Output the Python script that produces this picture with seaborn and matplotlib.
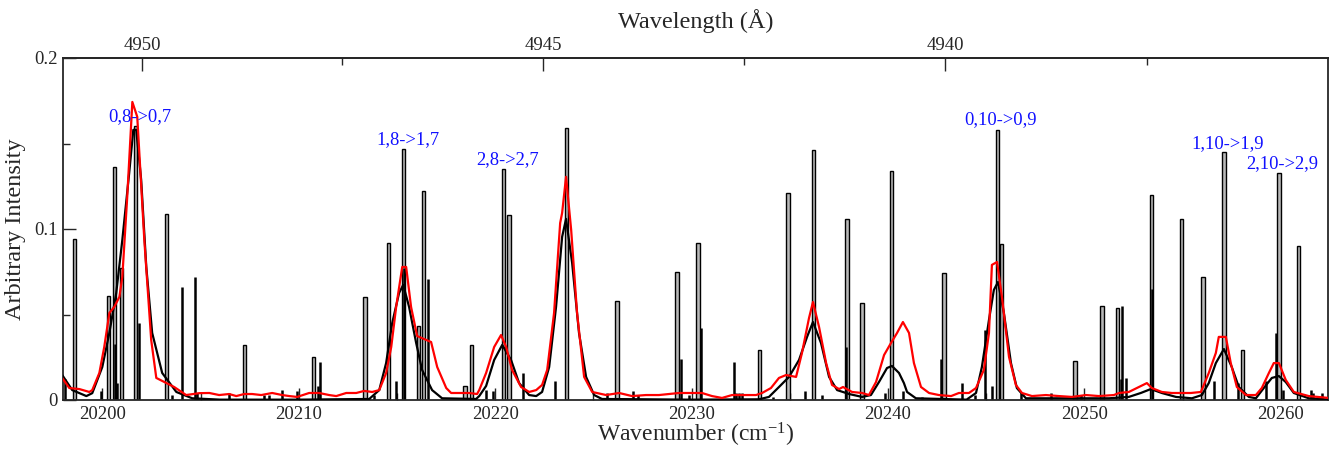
import numpy as np
import pandas as pd
import matplotlib
matplotlib.use("Agg")
import matplotlib.pyplot as plt
import seaborn as sns
from matplotlib.ticker import FixedLocator, FixedFormatter, MultipleLocator

# ---------------- data ----------------
# stick lines drawn as doublets (outlined bars)
doublet_nu = [20198.60, 20200.31, 20200.61, 20200.97, 20201.68, 20203.28, 20207.25,
              20210.74, 20213.38, 20214.58, 20215.34, 20216.11, 20216.36, 20218.47,
              20218.80, 20220.43, 20220.71, 20223.64, 20226.21, 20229.26, 20230.33,
              20233.46, 20234.91, 20236.21, 20237.91, 20238.68, 20240.18, 20242.85,
              20245.57, 20245.78, 20249.52, 20250.89, 20251.70, 20253.43, 20254.93,
              20256.03, 20257.10, 20258.06, 20259.90, 20260.89]
doublet_int = [0.094, 0.061, 0.136, 0.077, 0.160, 0.109, 0.032,
               0.025, 0.060, 0.092, 0.147, 0.043, 0.122, 0.008,
               0.032, 0.135, 0.108, 0.159, 0.058, 0.075, 0.092,
               0.029, 0.121, 0.146, 0.106, 0.057, 0.134, 0.074,
               0.158, 0.091, 0.023, 0.055, 0.054, 0.120, 0.106,
               0.072, 0.145, 0.029, 0.133, 0.090]

# single stick lines
single_nu = [20198.08, 20199.95, 20200.65, 20200.76, 20201.88, 20203.56, 20204.07,
             20204.73, 20204.83, 20206.46, 20208.24, 20208.50, 20209.16, 20209.92,
             20211.00, 20211.09, 20213.84, 20214.96, 20215.38, 20216.56, 20219.54,
             20219.90, 20221.42, 20223.05, 20225.70, 20227.02, 20227.28, 20229.44,
             20229.87, 20230.48, 20232.16, 20232.26, 20232.42, 20232.57, 20234.15,
             20235.77, 20236.64, 20237.86, 20239.85, 20240.78, 20241.73, 20242.70,
             20243.77, 20244.43, 20244.94, 20245.29, 20246.77, 20248.29, 20249.82,
             20251.86, 20251.91, 20252.12, 20253.46, 20256.59, 20257.81, 20259.24,
             20259.75, 20260.10, 20261.53, 20261.63, 20262.09]
single_int = [0.012, 0.005, 0.033, 0.010, 0.045, 0.003, 0.066,
              0.072, 0.004, 0.004, 0.003, 0.003, 0.006, 0.005,
              0.008, 0.022, 0.003, 0.011, 0.077, 0.071, 0.006,
              0.005, 0.016, 0.011, 0.004, 0.005, 0.003, 0.024,
              0.003, 0.042, 0.022, 0.004, 0.004, 0.004, 0.002,
              0.005, 0.003, 0.031, 0.004, 0.005, 0.002, 0.024,
              0.010, 0.003, 0.041, 0.008, 0.004, 0.004, 0.003,
              0.012, 0.055, 0.013, 0.065, 0.011, 0.010, 0.011,
              0.039, 0.006, 0.006, 0.004, 0.004]

# simulated (black) spectrum
sim_nu = [20197.96, 20198.47, 20199.19, 20199.49, 20200.00, 20200.36, 20200.71, 20201.02,
          20201.37, 20201.58, 20201.73, 20201.98, 20202.24, 20202.54, 20203.05, 20203.77,
          20204.58, 20206.00, 20210.00, 20213.59, 20214.10, 20214.45, 20214.76, 20215.11,
          20215.32, 20215.62, 20215.98, 20216.28, 20216.79, 20217.30, 20219.03, 20219.19,
          20219.54, 20219.95, 20220.36, 20220.81, 20221.22, 20221.73, 20222.09, 20222.39,
          20222.75, 20223.10, 20223.41, 20223.61, 20223.92, 20224.27, 20224.63, 20225.04,
          20225.44, 20230.00, 20233.43, 20233.94, 20234.45, 20234.96, 20235.47, 20235.88,
          20236.18, 20236.59, 20237.00, 20237.41, 20238.02, 20238.68, 20239.13, 20239.54,
          20239.95, 20240.20, 20240.56, 20240.81, 20240.97, 20241.42, 20244.00, 20244.48,
          20244.78, 20245.14, 20245.39, 20245.60, 20245.90, 20246.26, 20246.56, 20247.02,
          20251.25, 20252.26, 20252.87, 20253.38, 20253.94, 20254.66, 20255.47, 20255.98,
          20256.33, 20256.69, 20257.10, 20257.50, 20257.86, 20258.37, 20258.73, 20259.13,
          20259.54, 20259.90, 20260.25, 20260.66, 20261.42, 20262.50]
sim_int = [0.0146, 0.0058, 0.0023, 0.0040, 0.0193, 0.0392, 0.0626, 0.0936,
           0.1328, 0.1580, 0.1580, 0.1287, 0.0778, 0.0392, 0.0158, 0.0047,
           0.0010, 0.0002, 0.0002, 0.0006, 0.0058, 0.0216, 0.0450, 0.0626,
           0.0673, 0.0544, 0.0333, 0.0176, 0.0058, 0.0010, 0.0006, 0.0023,
           0.0082, 0.0234, 0.0322, 0.0234, 0.0099, 0.0029, 0.0023, 0.0047,
           0.0193, 0.0544, 0.0954, 0.1059, 0.0801, 0.0392, 0.0135, 0.0029,
           0.0006, 0.0002, 0.0004, 0.0018, 0.0076, 0.0135, 0.0234, 0.0369,
           0.0456, 0.0333, 0.0135, 0.0058, 0.0035, 0.0018, 0.0029, 0.0105,
           0.0187, 0.0199, 0.0158, 0.0099, 0.0047, 0.0010, 0.0002, 0.0041,
           0.0193, 0.0468, 0.0644, 0.0690, 0.0509, 0.0216, 0.0070, 0.0010,
           0.0010, 0.0018, 0.0041, 0.0064, 0.0041, 0.0018, 0.0010, 0.0029,
           0.0099, 0.0216, 0.0298, 0.0193, 0.0076, 0.0018, 0.0010, 0.0070,
           0.0129, 0.0140, 0.0105, 0.0041, 0.0010, 0.0002]

# observed (red) spectrum
obs_nu = [20197.96, 20198.32, 20198.83, 20199.34, 20199.49, 20199.85, 20200.10, 20200.36,
          20200.61, 20200.87, 20201.02, 20201.27, 20201.53, 20201.78, 20202.14, 20202.49,
          20202.75, 20203.26, 20203.66, 20204.27, 20204.94, 20205.45, 20205.95, 20206.46,
          20206.82, 20207.23, 20207.63, 20208.09, 20208.65, 20209.16, 20209.52, 20209.92,
          20210.53, 20211.04, 20211.55, 20211.91, 20212.42, 20212.93, 20213.33, 20213.74,
          20214.10, 20214.45, 20214.71, 20214.96, 20215.27, 20215.47, 20215.72, 20216.03,
          20216.74, 20217.05, 20217.51, 20217.76, 20218.17, 20218.68, 20219.08, 20219.19,
          20219.54, 20219.95, 20220.30, 20220.56, 20220.86, 20221.32, 20221.73, 20222.09,
          20222.39, 20222.65, 20223.00, 20223.31, 20223.41, 20223.61, 20223.87, 20224.17,
          20224.53, 20224.94, 20225.65, 20226.31, 20226.97, 20227.68, 20228.34, 20229.36,
          20230.13, 20230.53, 20231.04, 20231.55, 20232.06, 20232.57, 20233.28, 20233.59,
          20234.04, 20234.45, 20234.81, 20235.32, 20235.62, 20235.98, 20236.18, 20236.49,
          20236.85, 20237.15, 20237.51, 20237.71, 20238.17, 20238.68, 20239.03, 20239.39,
          20239.80, 20240.15, 20240.46, 20240.76, 20241.07, 20241.32, 20241.68, 20242.09,
          20242.59, 20243.21, 20243.61, 20244.12, 20244.48, 20244.88, 20245.14, 20245.29,
          20245.55, 20245.80, 20246.16, 20246.51, 20246.82, 20247.33, 20248.04, 20248.70,
          20249.36, 20250.08, 20250.74, 20251.50, 20251.76, 20252.26, 20252.67, 20253.18,
          20253.43, 20253.94, 20254.45, 20254.96, 20255.42, 20255.93, 20256.33, 20256.69,
          20256.84, 20257.20, 20257.45, 20257.76, 20258.22, 20258.73, 20259.03, 20259.39,
          20259.64, 20259.90, 20260.25, 20260.66, 20261.42, 20262.44]
obs_int = [0.0129, 0.0070, 0.0064, 0.0047, 0.0058, 0.0158, 0.0310, 0.0509,
           0.0544, 0.0603, 0.0720, 0.1188, 0.1743, 0.1656, 0.0936, 0.0351,
           0.0129, 0.0099, 0.0076, 0.0029, 0.0040, 0.0041, 0.0029, 0.0035,
           0.0023, 0.0035, 0.0035, 0.0029, 0.0041, 0.0029, 0.0023, 0.0018,
           0.0041, 0.0041, 0.0029, 0.0023, 0.0041, 0.0041, 0.0053, 0.0047,
           0.0058, 0.0158, 0.0310, 0.0544, 0.0778, 0.0778, 0.0544, 0.0374,
           0.0339, 0.0193, 0.0070, 0.0041, 0.0041, 0.0041, 0.0035, 0.0058,
           0.0158, 0.0310, 0.0380, 0.0310, 0.0176, 0.0076, 0.0047, 0.0058,
           0.0088, 0.0176, 0.0509, 0.1035, 0.1094, 0.1305, 0.0995, 0.0509,
           0.0135, 0.0047, 0.0029, 0.0041, 0.0023, 0.0029, 0.0029, 0.0041,
           0.0041, 0.0041, 0.0023, 0.0012, 0.0029, 0.0029, 0.0029, 0.0041,
           0.0070, 0.0129, 0.0146, 0.0135, 0.0275, 0.0480, 0.0573, 0.0427,
           0.0216, 0.0088, 0.0064, 0.0076, 0.0047, 0.0041, 0.0029, 0.0105,
           0.0263, 0.0333, 0.0392, 0.0456, 0.0392, 0.0216, 0.0076, 0.0041,
           0.0029, 0.0023, 0.0041, 0.0041, 0.0070, 0.0176, 0.0392, 0.0790,
           0.0807, 0.0603, 0.0252, 0.0088, 0.0041, 0.0023, 0.0029, 0.0023,
           0.0018, 0.0029, 0.0023, 0.0029, 0.0041, 0.0047, 0.0070, 0.0099,
           0.0070, 0.0047, 0.0041, 0.0041, 0.0041, 0.0047, 0.0158, 0.0275,
           0.0369, 0.0369, 0.0216, 0.0076, 0.0029, 0.0029, 0.0070, 0.0158,
           0.0216, 0.0216, 0.0117, 0.0047, 0.0023, 0.0012]

# band labels
label_text = ["0,8->0,7", "1,8->1,7", "2,8->2,7", "0,10->0,9", "1,10->1,9", "2,10->2,9"]
label_nu = [20201.93, 20215.57, 20220.64, 20245.75, 20257.30, 20260.08]
label_int = [0.1658, 0.1520, 0.1404, 0.1638, 0.1500, 0.1383]

top_ticks = [4950, 4945, 4940]
top_minor = [4947.5, 4942.5, 4937.5]
bottom_ticks = [20200, 20210, 20220, 20230, 20240, 20250, 20260]
y_ticks = [0, 0.1, 0.2]
y_ticklabels = ["0", "0.1", "0.2"]

# ---------------- style ----------------
sns.set_style("ticks")
plt.rcParams["font.family"] = ["Liberation Serif", "DejaVu Serif"]
plt.rcParams["mathtext.fontset"] = "custom"
plt.rcParams["mathtext.rm"] = "Liberation Serif"
plt.rcParams["mathtext.it"] = "Liberation Serif:italic"

fig = plt.figure(figsize=(13.3, 4.5), dpi=100)
ax = fig.add_axes([63 / 1330, 1 - 400 / 450, (1328 - 63) / 1330, (400 - 58) / 450])

# sticks
ax.bar(doublet_nu, doublet_int, width=0.17, color="#b8b8b8", edgecolor="black",
       linewidth=1.0, zorder=2)
ax.vlines(single_nu, 0, single_int, color="black", linewidth=1.8, zorder=2)

sim_df = pd.DataFrame({"nu": sim_nu, "I": sim_int})
obs_df = pd.DataFrame({"nu": obs_nu, "I": obs_int})
sns.lineplot(data=sim_df, x="nu", y="I", color="black", linewidth=1.6, sort=False,
             estimator=None, ax=ax, zorder=3)
sns.lineplot(data=obs_df, x="nu", y="I", color="#ff0000", linewidth=1.6, sort=False,
             estimator=None, ax=ax, zorder=4)

for t, xv, yv in zip(label_text, label_nu, label_int):
    ax.text(xv, yv, t, color="#1010ff", fontsize=13.3, ha="center", va="center", zorder=5)

ax.set_xlim(20198.0, 20262.4)
ax.set_ylim(0, 0.2)

ax.set_xticks(bottom_ticks)
ax.xaxis.set_minor_locator(MultipleLocator(5))
ax.yaxis.set_major_locator(FixedLocator(y_ticks))
ax.yaxis.set_major_formatter(FixedFormatter(y_ticklabels))
ax.yaxis.set_minor_locator(FixedLocator([0.05, 0.15]))
ax.tick_params(axis="both", which="major", direction="in", length=9, width=1.0,
               labelsize=13.5, top=False, right=False)
ax.tick_params(axis="both", which="minor", direction="in", length=5, width=1.0,
               top=False, right=False)
ax.tick_params(axis="x", pad=4)
ax.tick_params(axis="y", pad=4)

for s in ax.spines.values():
    s.set_linewidth(1.3)
    s.set_visible(True)

ax.set_xlabel("Wavenumber (cm$^{-1}$)", fontsize=17, labelpad=-1)
ax.set_ylabel("Arbitrary Intensity", fontsize=17.5, labelpad=6)


def nu2lam(x):
    x = np.asarray(x, dtype=float)
    with np.errstate(divide="ignore", invalid="ignore"):
        return np.where(x != 0, 1e8 / np.where(x != 0, x, 1), np.inf)


secax = ax.secondary_xaxis("top", functions=(nu2lam, nu2lam))
secax.xaxis.set_major_locator(FixedLocator(top_ticks))
secax.xaxis.set_major_formatter(FixedFormatter([str(v) for v in top_ticks]))
secax.xaxis.set_minor_locator(FixedLocator(top_minor))
secax.tick_params(axis="x", which="major", direction="in", length=9, width=1.0,
                  labelsize=13.5, pad=3)
secax.tick_params(axis="x", which="minor", direction="in", length=5, width=1.0)
secax.spines["top"].set_linewidth(1.3)
secax.set_xlabel("Wavelength (Å)", fontsize=17.5, labelpad=6)

fig.savefig("out.png", dpi=100)
